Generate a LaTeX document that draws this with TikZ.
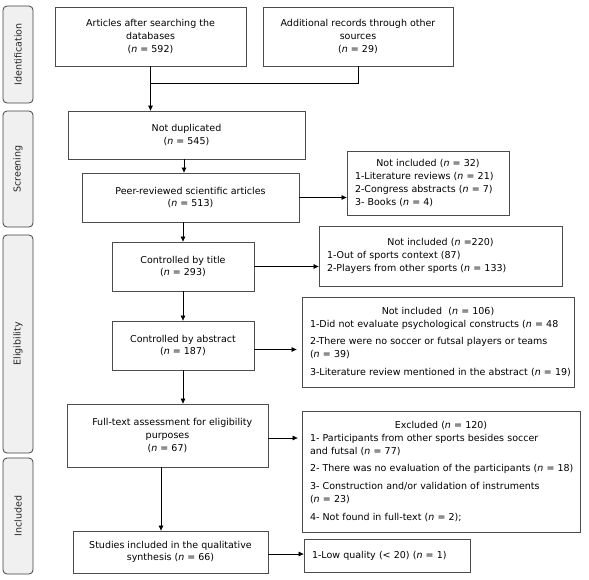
\documentclass[tikz,border=0pt]{standalone}
\usepackage{fontspec}
\setmainfont{DejaVu Sans}
\usetikzlibrary{arrows.meta, positioning, calc}

\newcommand{\nn}{\textit{n}}
\newcommand{\hdr}[1]{{\centering #1\par}}

\begin{document}
\begin{tikzpicture}[
    x=1pt, y=-1pt,
    font=\fontsize{9.5}{12.7}\selectfont,
    phase/.style={rectangle, rounded corners=4pt, draw=black!75, fill=black!6, line width=0.8pt, minimum height=30pt, rotate=90, font=\fontsize{9.5}{12}\selectfont\color{black!85}},
    box/.style={rectangle, draw=black!70, line width=0.8pt, align=center, inner sep=3pt},
    list/.style={rectangle, draw=black!70, line width=0.8pt, align=left, inner xsep=8pt, inner ysep=3pt},
    arr/.style={-{Triangle[length=5pt, width=4.5pt]}, draw=black, line width=0.7pt},
    lnk/.style={draw=black, line width=0.7pt}
  ]
    \useasboundingbox (0,0) rectangle (589,579);
    \node[phase, minimum width=97pt] (p1) at (18,54.5) {Identification};
    \node[phase, minimum width=116pt] (p2) at (18,169) {Screening};
    \node[phase, minimum width=218pt] (p3) at (18,344) {Eligibility};
    \node[phase, minimum width=116pt] (p4) at (18,516) {Included};
    \node[box, minimum width=191pt, minimum height=59pt] (a1) at (150.5,36.5) {Articles after searching the\\databases\\(\nn{} = 592)};
    \node[box, minimum width=190pt, minimum height=59pt] (a2) at (358,36.5) {Additional records through other\\sources\\(\nn{} = 29)};
    \node[box, minimum width=237pt, minimum height=48pt] (b) at (186.5,135) {Not duplicated\\(\nn{} = 545)};
    \node[box, minimum width=217pt, minimum height=49pt] (c) at (190.5,197.5) {Peer-reviewed scientific articles\\(\nn{} = 513)};
    \node[list, text width=146pt, minimum height=64pt] (d) at (428,183) {\hdr{Not included (\nn{} = 32)}1-Literature reviews (\nn{} = 21)\\2-Congress abstracts (\nn{} = 7)\\3- Books (\nn{} = 4)};
    \node[box, minimum width=142pt, minimum height=49pt] (e) at (183,266.5) {Controlled by title\\(\nn{} = 293)};
    \node[list, text width=227pt, minimum height=60pt] (f) at (440.5,256) {\hdr{Not included (\nn{} =220)}1-Out of sports context (87)\\2-Players from other sports (\nn{} = 133)};
    \node[box, minimum width=142pt, minimum height=49pt] (g) at (183,345.5) {Controlled by abstract\\(\nn{} = 187)};
    \node[list, text width=256pt, minimum height=90pt] (h) at (438,342) {\hdr{Not included\ \ (\nn{} = 106)}\mbox{1-Did not evaluate psychological constructs (\nn{} = 48}\par\vspace{5pt}\mbox{2-There were no soccer or futsal players or teams}\\(\nn{} = 39)\par\vspace{5pt}\mbox{3-Literature review mentioned in the abstract (\nn{} = 19)}};
    \node[box, minimum width=201pt, minimum height=63pt] (i) at (167.5,435.5) {\quad Full-text assessment for eligibility\\purposes\\(\nn{} = 67)};
    \node[list, text width=262pt, minimum height=121pt] (j) at (441,471.5) {\hdr{Excluded (\nn{} = 120)}\mbox{1- Participants from other sports besides soccer}\\and futsal (\nn{} = 77)\par\vspace{5pt}\mbox{2- There was no evaluation of the participants (\nn{} = 18)}\par\vspace{5pt}\mbox{3- Construction and/or validation of instruments}\\(\nn{} = 23)\par\vspace{5pt}4- Not found in full-text (\nn{} = 2);};
    \node[box, minimum width=195pt, minimum height=42pt] (k) at (170.5,552) {Studies included in the qualitative\\synthesis (\nn{} = 66)};
    \node[list, text width=150pt, minimum height=33pt] (l) at (387,555.5) {1-Low quality (< 20) (\nn{} = 1)};
    \coordinate (join) at ($(a1.south)+(0,17)$);
    \draw[lnk] (a2.south) |- (join);
    \draw[arr] (a1.south) -- (a1.south |- b.north);
    \draw[arr] ([xshift=-2.5pt]b.south) -- ([xshift=-2.5pt]b.south |- c.north);
    \draw[arr] (e.north |- c.south) -- (e.north);
    \draw[arr] (e.south) -- (g.north);
    \draw[arr] (g.south) -- (g.south |- i.north);
    \draw[arr] ([xshift=-6.5pt]i.south) -- ([xshift=-6.5pt]i.south |- k.north);
    \draw[arr] (c.east) -- (c.east -| d.west);
    \draw[arr] (e.east) -- (e.east -| f.west);
    \draw[arr] ([yshift=-4pt]g.east) -- ([yshift=-4pt,xshift=-5pt]g.east -| h.west);
    \draw[arr] ([yshift=-2.5pt]i.east) -- ([yshift=-2.5pt,xshift=-4pt]i.east -| j.west);
    \draw[arr] ([yshift=-2pt]k.east) -- ([yshift=-2pt]k.east -| l.west);
  \end{tikzpicture}
\end{document}
